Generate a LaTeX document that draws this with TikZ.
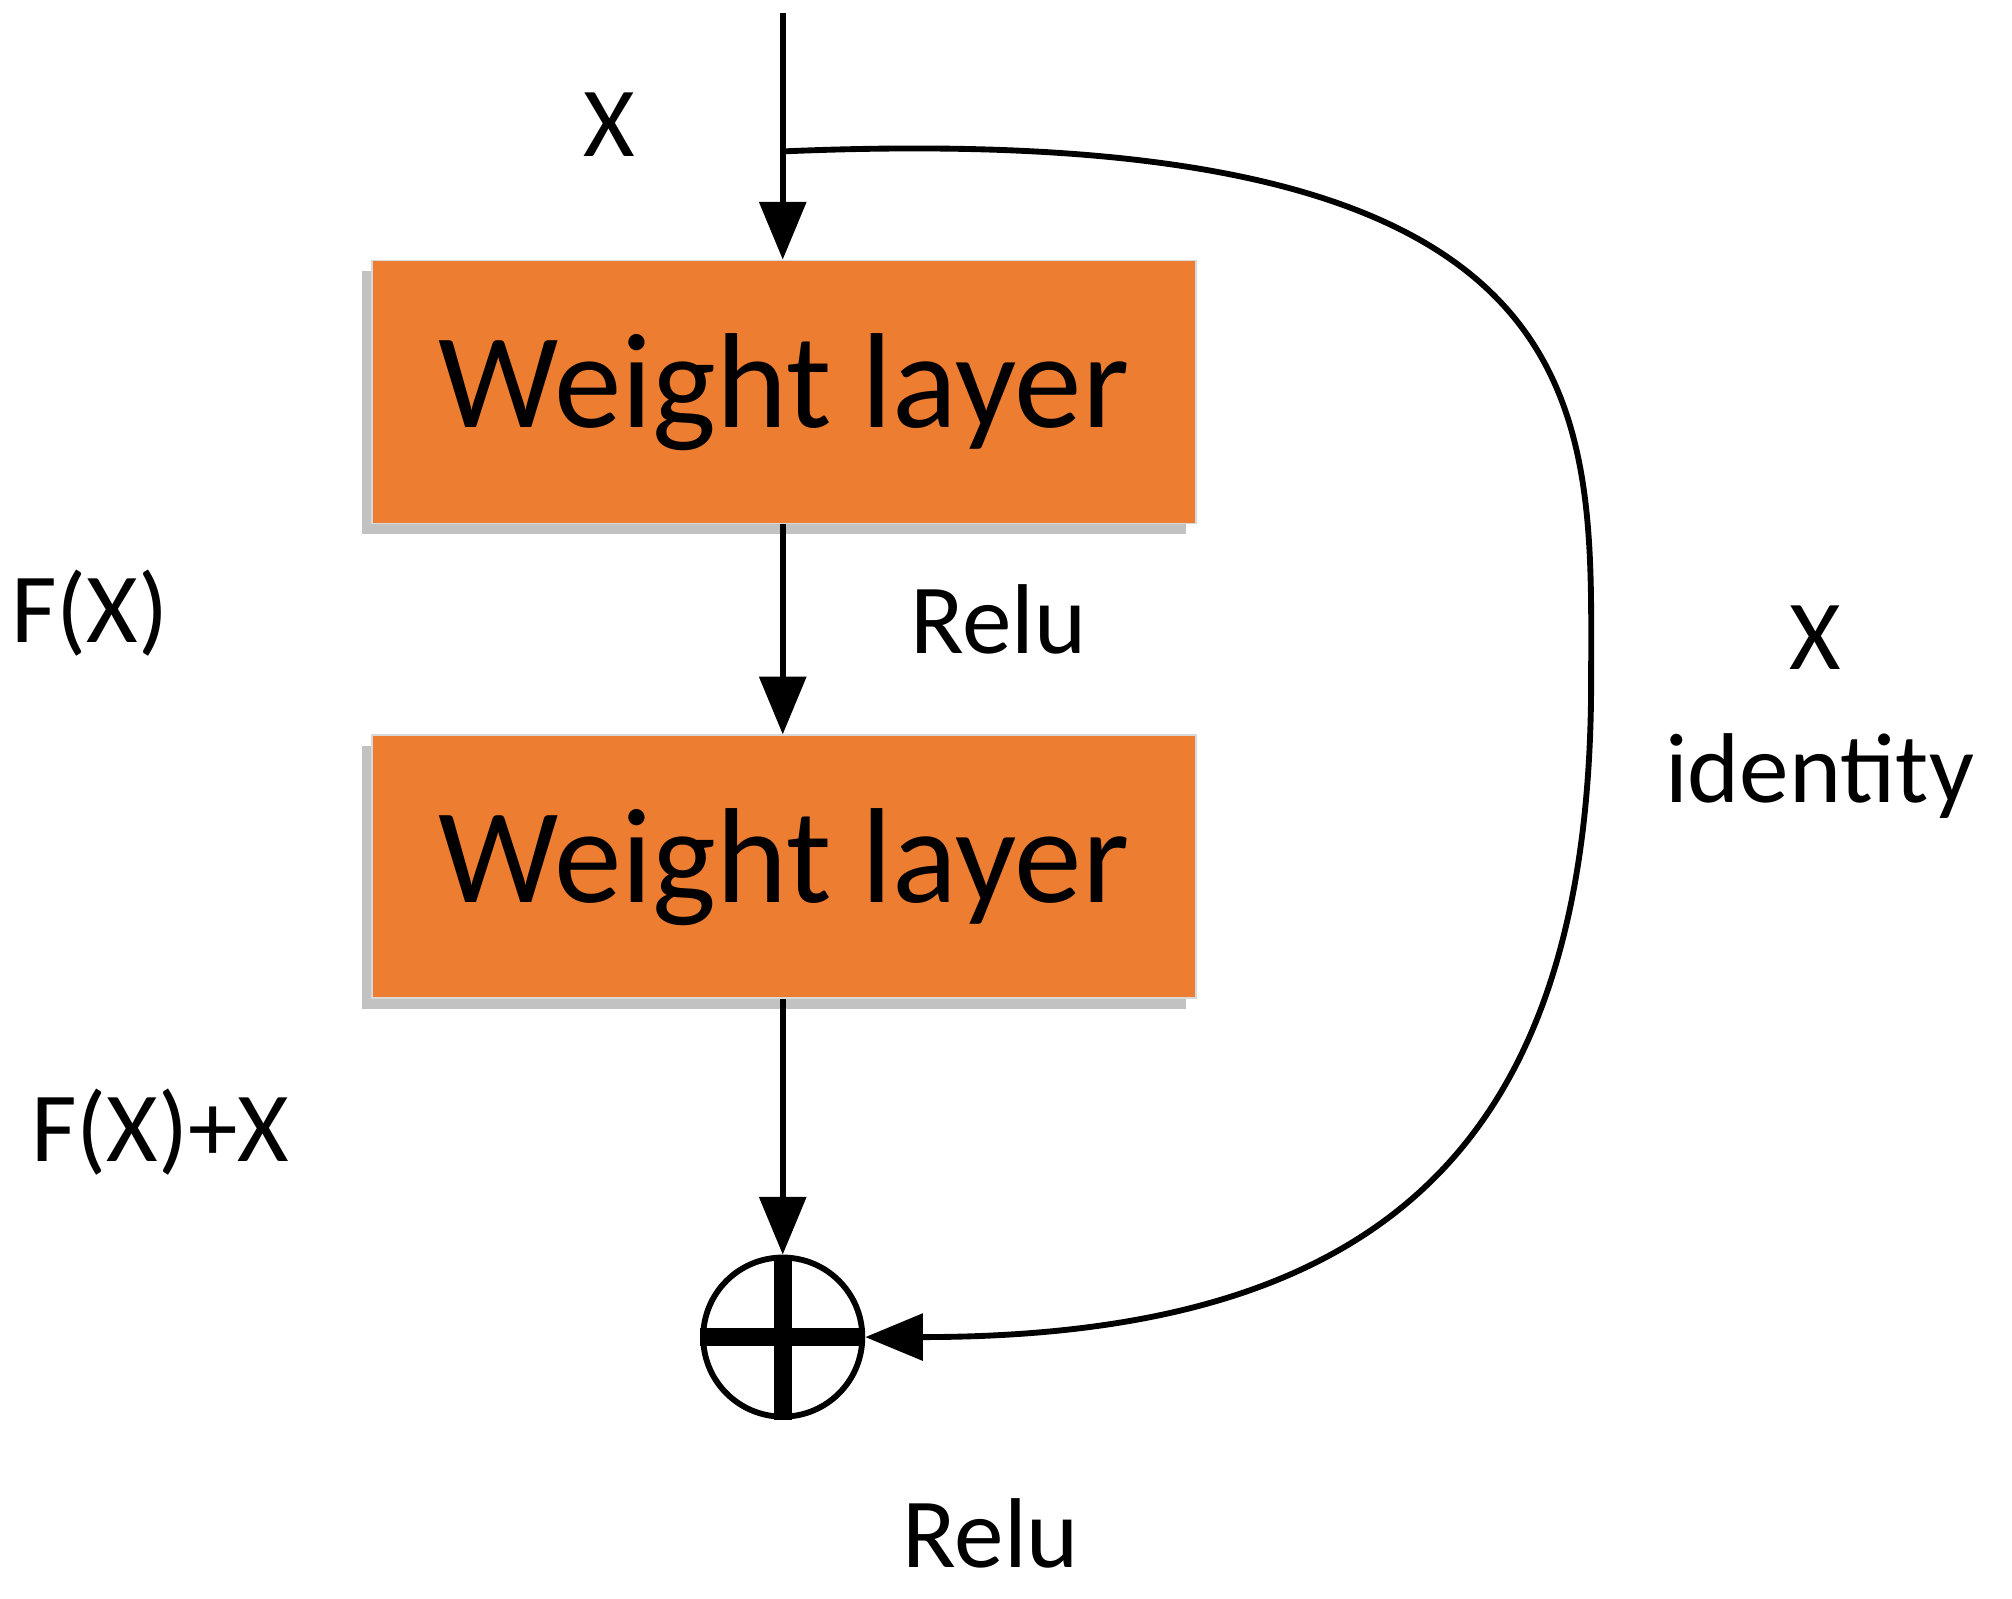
\documentclass[tikz,border=0pt]{standalone}
\usepackage{fontspec}
\setmainfont{Carlito}
\usetikzlibrary{arrows.meta,shadows}
\definecolor{layerorange}{HTML}{ED7D31}
\tikzset{
  layer/.style={draw=black!15, fill=layerorange, minimum width=6.42cm, minimum height=2.05cm,
    font=\fontsize{30}{34}\selectfont, drop shadow={shadow xshift=-0.8mm, shadow yshift=-0.8mm, fill=black!40, opacity=0.6}},
  lbl/.style={font=\fontsize{22}{26}\selectfont},
  flow/.style={line width=1.3pt, -{Triangle[width=0.36cm,length=0.45cm]}}
}
\begin{document}
\begin{tikzpicture}
  \useasboundingbox (0,0) rectangle (15.68,-12.46);

  \coordinate (in) at (6.1,-0.1);
  \coordinate (split) at (6.1,-1.18);
  \node[layer] (w1) at (6.11,-3.055) {Weight layer};
  \node[layer] (w2) at (6.11,-6.755) {Weight layer};
  \node[circle, draw, line width=1.3pt, minimum size=1.24cm, inner sep=0pt] (sum) at (6.1,-10.42) {};
  \draw[line width=4pt] (sum.north) -- (sum.south);
  \draw[line width=4pt] (sum.west) -- (sum.east);

  \draw[flow] (in) -- (w1.north -| in);
  \draw[flow] (w1.south -| in) -- (w2.north -| in);
  \draw[flow] (w2.south -| in) -- (sum.north);
  \draw[flow] (split) .. controls (12.6,-0.9) and (12.4,-3.2) .. (12.4,-5.3)
    .. controls (12.4,-8.9) and (10.8,-10.42) .. (sum.east);

  \node[lbl] at (4.75,-0.97) {X};
  \node[lbl] at (0.7,-4.78) {F(X)};
  \node[lbl] at (7.78,-4.83) {Relu};
  \node[lbl] at (14.15,-4.97) {X};
  \node[lbl] at (14.18,-6.05) {identity};
  \node[lbl] at (1.25,-8.82) {F(X)+X};
  \node[lbl] at (7.72,-11.95) {Relu};

\end{tikzpicture}
\end{document}
